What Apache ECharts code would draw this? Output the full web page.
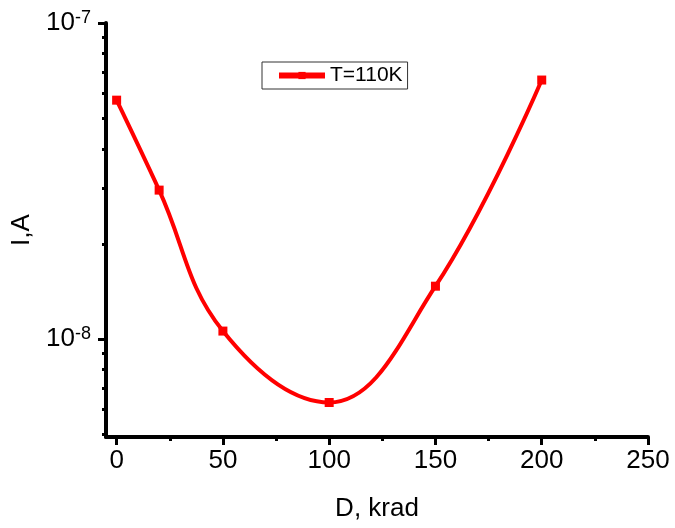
<!DOCTYPE html>
<html>
<head>
<meta charset="utf-8">
<script src="https://cdn.jsdelivr.net/npm/echarts@6/dist/echarts.min.js"></script>
<style>html,body{margin:0;padding:0;background:#fff;}#c{width:675px;height:528px;}</style>
</head>
<body>
<div id="c"></div>
<script>
// Data
const doseKrad = [0, 20, 50, 100, 150, 200];
const currentA = [5.7e-8, 2.96e-8, 1.06e-8, 6.3e-9, 1.47e-8, 6.6e-8];
const seriesName = 'T=110K';
const xMajorTicks = [0, 50, 100, 150, 200, 250];
const xMinorTicks = [25, 75, 125, 175, 225];
const yMajorTicks = [1e-8, 1e-7];
const yMinorTicks = [5e-9, 6e-9, 7e-9, 8e-9, 9e-9, 2e-8, 3e-8, 4e-8, 5e-8, 6e-8, 7e-8, 8e-8, 9e-8];

const FONT = 'Liberation Sans, Arial, sans-serif';
const chart = echarts.init(document.getElementById('c'), null, {renderer: 'canvas'});

const xCommon = {type: 'value', min: -5, max: 250, splitLine: {show: false}, position: 'bottom'};
const yCommon = {type: 'log', min: 4.9e-9, max: 1e-7, splitLine: {show: false}, position: 'left'};

chart.setOption({
  animation: false,
  backgroundColor: '#fff',
  grid: {left: 106, right: 27, top: 23, bottom: 91, containLabel: false},
  legend: {
    left: 262, top: 62,
    padding: [3, 5, 3, 14],
    borderColor: '#333', borderWidth: 1, borderRadius: 0,
    itemWidth: 46, itemHeight: 9,
    lineStyle: {width: 6},
    textStyle: {fontFamily: FONT, fontSize: 21, color: '#000'},
    data: [seriesName]
  },
  xAxis: [
    Object.assign({}, xCommon, {
      name: 'D, krad', nameLocation: 'middle', nameGap: 59,
      nameTextStyle: {fontFamily: FONT, fontSize: 26, color: '#000'},
      axisLine: {show: true, onZero: false, lineStyle: {color: '#000', width: 4}},
      axisTick: {show: true, length: 8, lineStyle: {color: '#000', width: 3}, customValues: xMajorTicks},
      axisLabel: {show: true, customValues: xMajorTicks, margin: 11, fontFamily: FONT, fontSize: 26, color: '#000'}
    }),
    Object.assign({}, xCommon, {
      axisLine: {show: false, onZero: false},
      axisTick: {show: true, length: 4, lineStyle: {color: '#000', width: 3}, customValues: xMinorTicks},
      axisLabel: {show: false}
    })
  ],
  yAxis: [
    Object.assign({}, yCommon, {
      name: 'I,A', nameLocation: 'middle', nameGap: 67,
      nameTextStyle: {fontFamily: FONT, fontSize: 26, color: '#000'},
      axisLine: {show: true, onZero: false, lineStyle: {color: '#000', width: 4}},
      axisTick: {show: true, length: 8, lineStyle: {color: '#000', width: 3}, customValues: yMajorTicks},
      axisLabel: {
        show: true, customValues: yMajorTicks, margin: 15,
        formatter: function (v) { return '{b|10}{s|' + Math.round(Math.log10(v)) + '}'; },
        rich: {
          b: {fontFamily: FONT, fontSize: 26, color: '#000', lineHeight: 28},
          s: {fontFamily: FONT, fontSize: 18, color: '#000', verticalAlign: 'top', lineHeight: 14, padding: [0, 0, 12, 0]}
        }
      }
    }),
    Object.assign({}, yCommon, {
      axisLine: {show: false, onZero: false},
      axisTick: {show: true, length: 4, lineStyle: {color: '#000', width: 3}, customValues: yMinorTicks},
      axisLabel: {show: false}
    })
  ],
  series: [{
    name: seriesName,
    type: 'line',
    xAxisIndex: 0, yAxisIndex: 0,
    smooth: 0.4,
    symbol: 'rect', symbolSize: 9,
    lineStyle: {color: '#ff0000', width: 4},
    itemStyle: {color: '#ff0000'},
    data: doseKrad.map((d, i) => [d, currentA[i]])
  }]
});
</script>
</body>
</html>
